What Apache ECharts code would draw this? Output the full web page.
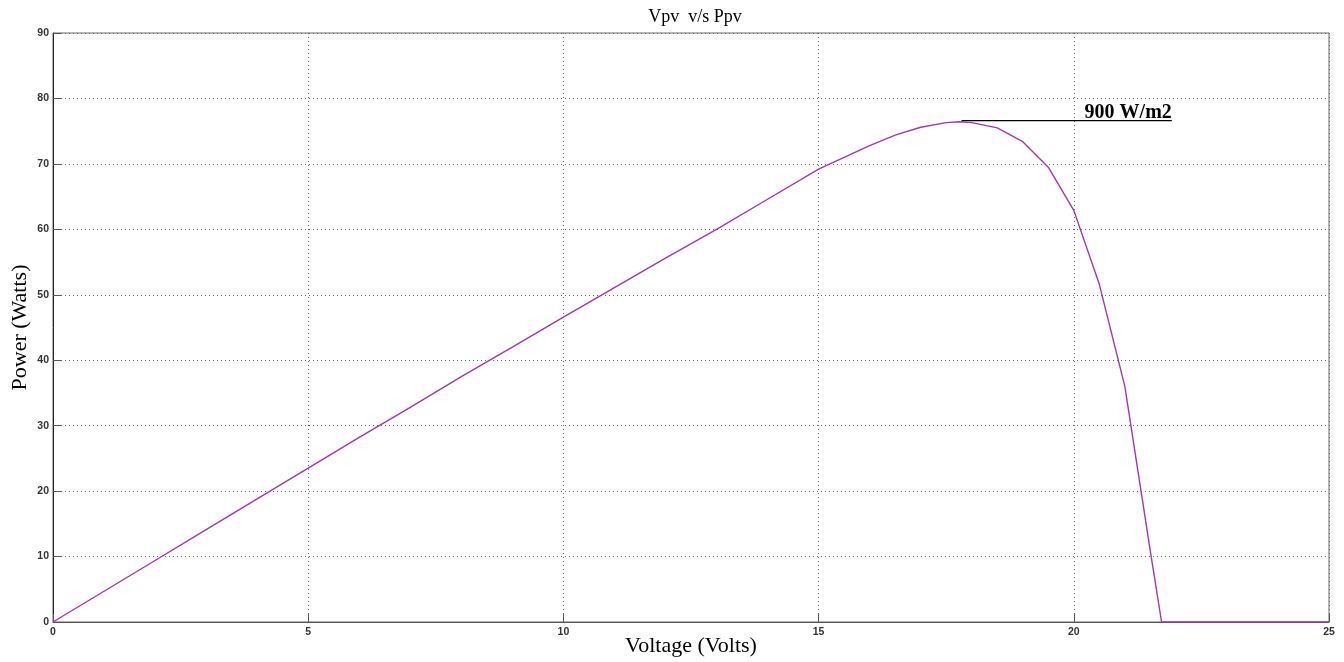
<!DOCTYPE html>
<html>
<head>
<meta charset="utf-8">
<script src="https://cdn.jsdelivr.net/npm/echarts@6/dist/echarts.min.js"></script>
<style>
html,body{margin:0;padding:0;background:#fff;}
#chart{width:1344px;height:662px;}
</style>
</head>
<body>
<div id="chart"></div>
<script>
// PV module voltage (V) and output power (W) at 900 W/m2
const voltage = [0, 1, 2, 3, 4, 5, 6, 7, 8, 9, 10, 11, 12, 13, 14, 15, 15.5, 16, 16.5, 17, 17.5, 17.75, 18, 18.5, 19, 19.5, 20, 20.5, 21, 21.5, 21.72, 22, 23, 24, 25];
const power   = [0, 4.7, 9.4, 14.1, 18.8, 23.5, 28.2, 32.8, 37.5, 42.0, 46.6, 51.1, 55.6, 60.0, 64.6, 69.2, 71.0, 72.8, 74.4, 75.6, 76.3, 76.45, 76.3, 75.5, 73.4, 69.5, 62.9, 51.6, 36.0, 10.8, 0, 0, 0, 0, 0];
const xTicks = [0, 5, 10, 15, 20, 25];
const yTicks = [0, 10, 20, 30, 40, 50, 60, 70, 80, 90];
// irradiance tag: leader line from the peak to the label
const tagX = [17.8, 21.92];
const tagY = 76.6;
const tagText = '900 W/m2';

const curve = voltage.map((v, i) => [v, power[i]]);
const serif = '"Liberation Serif", "DejaVu Serif", serif';
const tickFont = {fontFamily: 'Arial, "Liberation Sans", sans-serif', fontSize: 10.5, fontWeight: 'bold', color: '#333'};

const chart = echarts.init(document.getElementById('chart'), null, {renderer: 'canvas'});
chart.setOption({
  animation: false,
  backgroundColor: '#fff',
  title: {
    text: 'Vpv  v/s Ppv',
    left: 690, top: 3, textAlign: 'center',
    textStyle: {fontFamily: serif, fontSize: 18, fontWeight: 'normal', color: '#000'}
  },
  grid: {
    left: 53, right: 15, top: 33, bottom: 40,
    outerBoundsMode: 'none', containLabel: false,
    show: true, borderColor: '#666', borderWidth: 1, backgroundColor: '#fff'
  },
  xAxis: {
    type: 'value', min: xTicks[0], max: xTicks[xTicks.length - 1], interval: 5,
    name: 'Voltage (Volts)', nameLocation: 'middle', nameGap: 13, nameMoveOverlap: false,
    nameTextStyle: {fontFamily: serif, fontSize: 22, color: '#000'},
    axisLine: {show: true, onZero: false, lineStyle: {color: '#555', width: 1}},
    axisTick: {show: true, inside: true, length: 8, lineStyle: {color: '#555'}},
    axisLabel: Object.assign({margin: 5}, tickFont),
    splitLine: {show: true, lineStyle: {color: '#666', type: [1, 3], width: 1}}
  },
  yAxis: {
    type: 'value', min: yTicks[0], max: yTicks[yTicks.length - 1], interval: 10,
    name: 'Power (Watts)', nameLocation: 'middle', nameGap: 22, nameMoveOverlap: false,
    nameTextStyle: {fontFamily: serif, fontSize: 22, color: '#000'},
    axisLine: {show: true, onZero: false, lineStyle: {color: '#222', width: 1}},
    axisTick: {show: true, inside: true, length: 8, lineStyle: {color: '#555'}},
    axisLabel: Object.assign({margin: 4}, tickFont),
    splitLine: {show: true, lineStyle: {color: '#666', type: [1, 3], width: 1}}
  },
  series: [
    {
      type: 'line', data: curve, showSymbol: false, smooth: false,
      lineStyle: {color: '#a03aa6', width: 1.4}, z: 3
    },
    {
      type: 'line', data: tagX.map(x => [x, tagY]), showSymbol: false, silent: true,
      lineStyle: {color: '#000', width: 1.2}, z: 4,
      endLabel: {
        show: true, formatter: tagText, align: 'right', verticalAlign: 'bottom',
        offset: [0, 2], distance: 0,
        fontFamily: serif, fontSize: 20, fontWeight: 'bold', color: '#000'
      }
    }
  ]
});
</script>
</body>
</html>
